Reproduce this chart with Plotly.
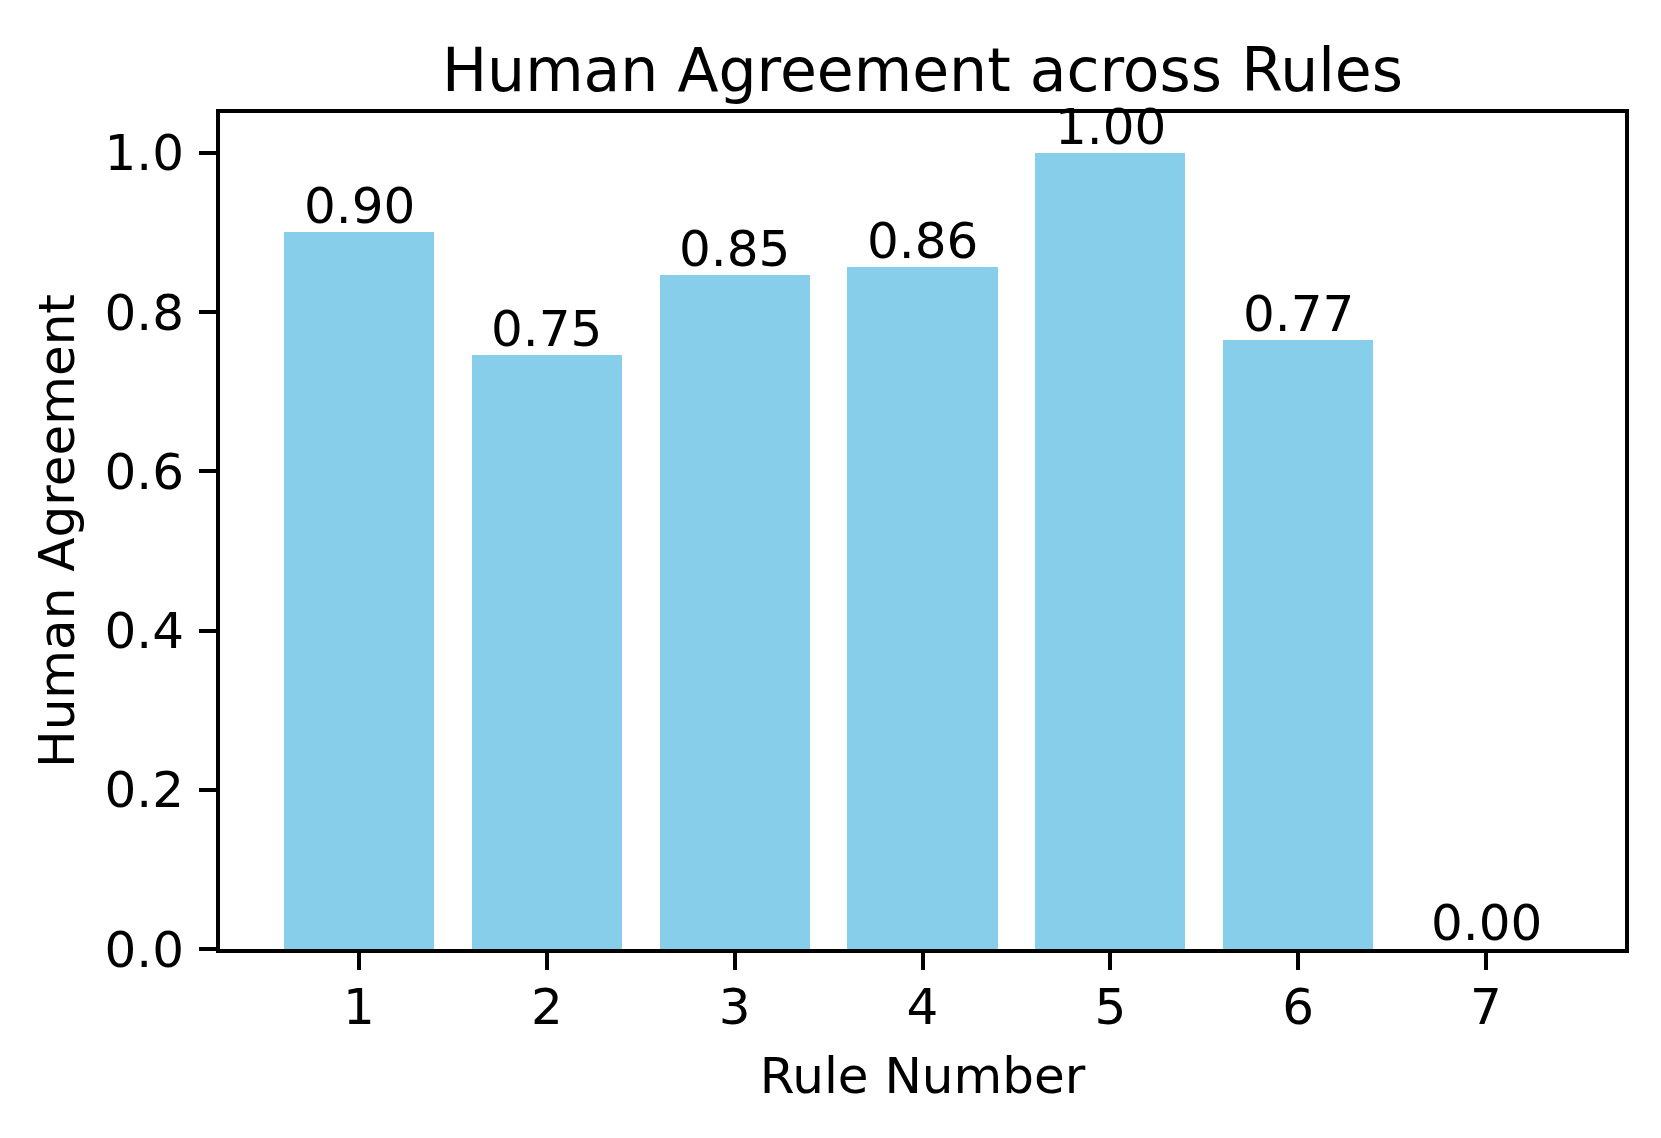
import plotly.graph_objects as go

# data
rules = [1, 2, 3, 4, 5, 6, 7]
agreement = [0.90, 0.746, 0.846, 0.856, 1.00, 0.765, 0.00]
y_ticks = [0.0, 0.2, 0.4, 0.6, 0.8, 1.0]

FONT = 'DejaVu Sans'

fig = go.Figure()
fig.add_trace(go.Bar(
    x=rules,
    y=agreement,
    width=0.8,
    marker=dict(color='#87CEEB', line=dict(width=0)),
    hoverinfo='skip',
))

# value labels on top of each bar
for r, v in zip(rules, agreement):
    fig.add_annotation(
        x=r, y=v, xref='x', yref='y',
        text=f'{v:.2f}',
        showarrow=False,
        yanchor='bottom',
        yshift=-4,
        font=dict(family=FONT, size=50, color='black'),
        borderpad=0,
    )

# page body has an 8px margin, so the figure is a bit smaller than the window
fig.update_layout(
    width=1645,
    height=1122,
    margin=dict(l=212, r=28, t=105, b=181, autoexpand=False),
    paper_bgcolor='white',
    plot_bgcolor='white',
    showlegend=False,
    bargap=0,
    font=dict(family=FONT, size=50, color='black'),
    title=dict(
        text='Human Agreement across Rules',
        font=dict(family=FONT, size=60, color='black'),
        x=0.5, xref='paper', xanchor='center',
        y=1 - 62 / 1122, yref='container', yanchor='middle',
    ),
)

fig.update_xaxes(
    range=[0.26, 7.74],
    tickvals=rules,
    ticktext=[str(r) for r in rules],
    ticks='outside', ticklen=17, tickwidth=4, tickcolor='black',
    ticklabelstandoff=-6,
    showline=True, linewidth=4, linecolor='black', mirror=True,
    showgrid=False, zeroline=False,
    tickfont=dict(family=FONT, size=50, color='black'),
    title=dict(text='Rule Number', font=dict(family=FONT, size=50, color='black'), standoff=24),
)

fig.update_yaxes(
    range=[0, 1.05],
    tickvals=y_ticks,
    ticktext=[f'{t:.1f}' for t in y_ticks],
    ticks='outside', ticklen=17, tickwidth=4, tickcolor='black',
    ticklabelstandoff=5,
    showline=True, linewidth=4, linecolor='black', mirror=True,
    showgrid=False, zeroline=False,
    tickfont=dict(family=FONT, size=50, color='black'),
    title=dict(text='Human Agreement', font=dict(family=FONT, size=50, color='black'), standoff=15),
)

fig.write_html('out.html')
